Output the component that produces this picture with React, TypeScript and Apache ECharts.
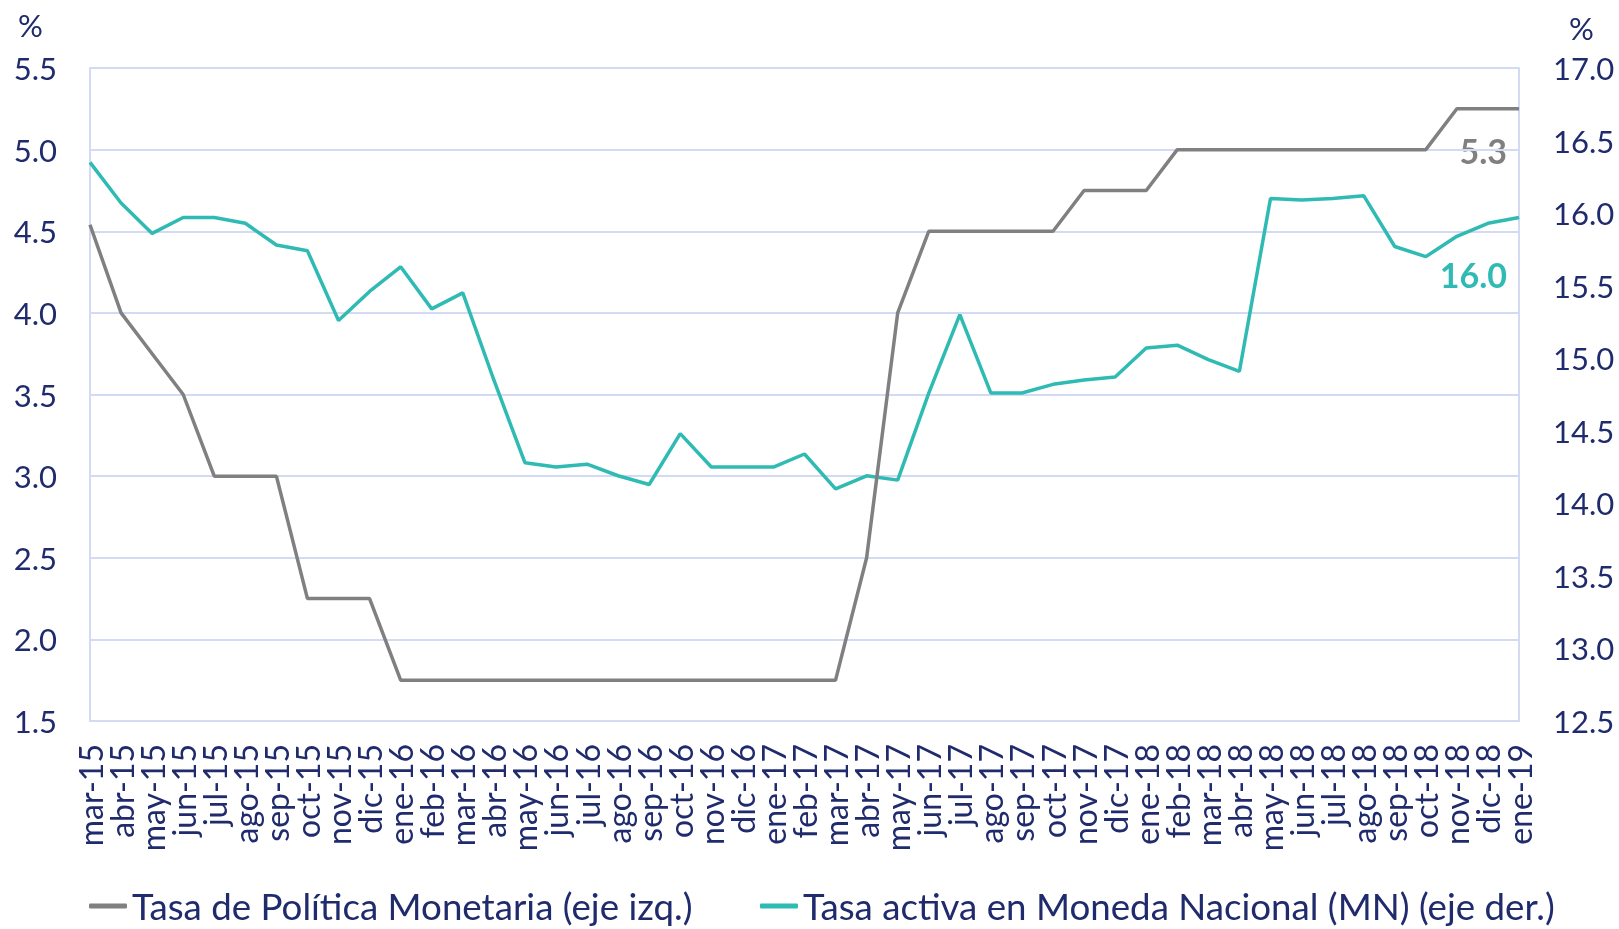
import React, { useEffect, useRef } from "react";
import * as echarts from "echarts";

const categories = [
  "mar-15", "abr-15", "may-15", "jun-15", "jul-15", "ago-15", "sep-15", "oct-15", "nov-15", "dic-15",
  "ene-16", "feb-16", "mar-16", "abr-16", "may-16", "jun-16", "jul-16", "ago-16", "sep-16", "oct-16", "nov-16", "dic-16",
  "ene-17", "feb-17", "mar-17", "abr-17", "may-17", "jun-17", "jul-17", "ago-17", "sep-17", "oct-17", "nov-17", "dic-17",
  "ene-18", "feb-18", "mar-18", "abr-18", "may-18", "jun-18", "jul-18", "ago-18", "sep-18", "oct-18", "nov-18", "dic-18",
  "ene-19",
];

const tpm = [
  4.54, 4.0, 3.75, 3.5, 3.0, 3.0, 3.0, 2.25, 2.25, 2.25,
  1.75, 1.75, 1.75, 1.75, 1.75, 1.75, 1.75, 1.75, 1.75, 1.75, 1.75, 1.75,
  1.75, 1.75, 1.75, 2.5, 4.0, 4.5, 4.5, 4.5, 4.5, 4.5, 4.75, 4.75,
  4.75, 5.0, 5.0, 5.0, 5.0, 5.0, 5.0, 5.0, 5.0, 5.0, 5.25, 5.25,
  5.25,
];

const tasaActiva = [
  16.35, 16.07, 15.86, 15.97, 15.97, 15.93, 15.78, 15.74, 15.26, 15.46,
  15.63, 15.34, 15.45, 14.85, 14.28, 14.25, 14.27, 14.19, 14.13, 14.48, 14.25, 14.25,
  14.25, 14.34, 14.10, 14.19, 14.16, 14.76, 15.30, 14.76, 14.76, 14.82, 14.85, 14.87,
  15.07, 15.09, 14.99, 14.91, 16.10, 16.09, 16.10, 16.12, 15.77, 15.70, 15.84, 15.93,
  15.97,
];

const leftTicks = { min: 1.5, max: 5.5, interval: 0.5 };
const rightTicks = { min: 12.5, max: 17.0, interval: 0.5 };

const seriesNames = [
  "Tasa de Política Monetaria (eje izq.)",
  "Tasa activa en Moneda Nacional (MN) (eje der.)",
];

const GREY = "#808080";
const TEAL = "#2fbbb3";
const NAVY = "#1f2b6c";
const GRID = "#d3daf3";
const FONT = "Lato, 'Open Sans', sans-serif";

export default function App() {
  const ref = useRef<HTMLDivElement>(null);

  useEffect(() => {
    document.body.style.margin = "0";
    if (!ref.current) return;
    const chart = echarts.init(ref.current, undefined, { renderer: "svg" });

    const lastTpm = tpm[tpm.length - 1].toFixed(1);
    const lastTasa = tasaActiva[tasaActiva.length - 1].toFixed(1);

    const legendBase = {
      top: 886,
      padding: 0,
      itemWidth: 38,
      itemHeight: 5,
      icon: "roundRect",
      textStyle: { color: NAVY, fontSize: 36.7, fontFamily: FONT, lineHeight: 40 },
      selectedMode: false,
    };

    chart.setOption({
      animation: false,
      textStyle: { fontFamily: FONT },
      grid: { left: 90, right: 100, top: 68, bottom: 208, containLabel: false },
      legend: [
        { ...legendBase, left: 89, data: [seriesNames[0]] },
        { ...legendBase, left: 760, data: [seriesNames[1]] },
      ],
      xAxis: {
        type: "category",
        data: categories,
        boundaryGap: false,
        axisLine: { show: true, lineStyle: { color: GRID, width: 2 } },
        axisTick: { show: false },
        axisLabel: {
          rotate: 90,
          interval: 0,
          margin: 23,
          color: NAVY,
          fontSize: 32,
          fontFamily: FONT,
        },
      },
      yAxis: [
        {
          type: "value",
          position: "left",
          ...leftTicks,
          axisLine: { show: true, lineStyle: { color: GRID, width: 2 } },
          axisTick: { show: false },
          splitLine: { show: true, lineStyle: { color: GRID, width: 2 } },
          axisLabel: {
            margin: 33,
            color: NAVY,
            fontSize: 31,
            fontFamily: FONT,
            formatter: (v: number) => v.toFixed(1),
          },
        },
        {
          type: "value",
          position: "right",
          ...rightTicks,
          axisLine: { show: true, lineStyle: { color: GRID, width: 2 } },
          axisTick: { show: false },
          splitLine: { show: false },
          axisLabel: {
            margin: 34,
            color: NAVY,
            fontSize: 31,
            fontFamily: FONT,
            formatter: (v: number) => v.toFixed(1),
          },
        },
      ],
      series: [
        {
          name: seriesNames[0],
          type: "line",
          yAxisIndex: 0,
          data: tpm,
          showSymbol: false,
          symbol: "none",
          lineStyle: { color: GREY, width: 3.5 },
          itemStyle: { color: GREY },
          z: 3,
        },
        {
          name: seriesNames[1],
          type: "line",
          yAxisIndex: 1,
          data: tasaActiva,
          showSymbol: false,
          symbol: "none",
          lineStyle: { color: TEAL, width: 3.5 },
          itemStyle: { color: TEAL },
          z: 2,
        },
      ],
      graphic: [
        {
          type: "text",
          left: 18,
          top: 9,
          style: { text: "%", fill: NAVY, font: `31px ${FONT}` },
        },
        {
          type: "text",
          left: 1569,
          top: 12,
          style: { text: "%", fill: NAVY, font: `31px ${FONT}` },
        },
        {
          type: "text",
          right: 112,
          top: 133,
          style: { text: lastTpm, fill: GREY, font: `bold 34px ${FONT}` },
        },
        {
          type: "text",
          right: 112,
          top: 257,
          style: { text: lastTasa, fill: TEAL, font: `bold 34px ${FONT}` },
        },
      ],
    });

    return () => chart.dispose();
  }, []);

  return (
    <div
      ref={ref}
      style={{ position: "fixed", left: 0, top: 0, width: 1619, height: 929 }}
    />
  );
}
